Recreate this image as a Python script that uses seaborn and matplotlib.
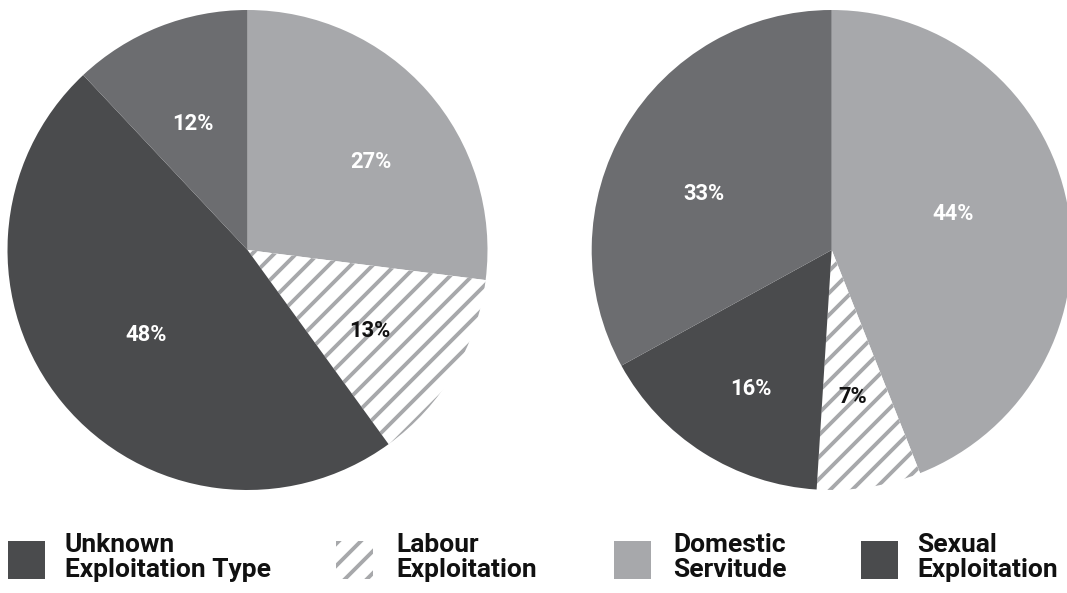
import matplotlib
matplotlib.use('Agg')
import matplotlib.pyplot as plt
import seaborn as sns
import numpy as np
from matplotlib.patches import Rectangle

# slice order in both pies: light, hatched, dark, mid grey (clockwise from 12 o'clock)
slice_names = ['Domestic Servitude', 'Labour Exploitation', 'Dark', 'Mid']
left_values = [27, 13, 48, 12]
right_values = [44, 7, 16, 33]

legend_labels = [['Unknown', 'Exploitation Type'],
                 ['Labour', 'Exploitation'],
                 ['Domestic', 'Servitude'],
                 ['Sexual', 'Exploitation']]

LIGHT = '#a7a8ab'
MID = '#6c6d70'
DARK = '#4a4b4d'
slice_colors = [LIGHT, 'white', DARK, MID]
legend_colors = [DARK, 'white', LIGHT, DARK]
legend_hatch = [None, '//', None, None]

sns.set_theme(style='white')
plt.rcParams['font.family'] = ['Roboto', 'DejaVu Sans']
plt.rcParams['hatch.linewidth'] = 2.1

W, H, DPI = 1067, 593, 132
fig = plt.figure(figsize=(W / DPI, H / DPI), dpi=DPI)


def draw_pie(ax, values, label_r, label_dang):
    wedges, _, autotexts = ax.pie(
        values, colors=slice_colors, startangle=90, counterclock=False,
        autopct=lambda p: f'{p:.0f}%', wedgeprops=dict(linewidth=0),
        textprops=dict(color='white', fontsize=12, fontweight='bold'))
    # hatched slice
    hw = wedges[1]
    hw.set_facecolor('white')
    hw.set_edgecolor(LIGHT)
    hw.set_linewidth(0)
    hw.set_hatch('//')
    autotexts[1].set_color('#111111')
    for w, t, r, da in zip(wedges, autotexts, label_r, label_dang):
        w.set_clip_on(False)
        ang = np.deg2rad((w.theta1 + w.theta2) / 2 + da)
        t.set_position((r * np.cos(ang), r * np.sin(ang)))
    ax.set_xlim(-1, 1)
    ax.set_ylim(-1, 1)
    ax.axis('off')


ax1 = fig.add_axes([7.5 / W, 1 - 490 / H, 480 / W, 480 / H])
draw_pie(ax1, left_values, [0.63, 0.61, 0.55, 0.57], [-6, -3, 0.5, 1.7])

ax2 = fig.add_axes([591.7 / W, 1 - 490 / H, 480 / W, 480 / H])
draw_pie(ax2, right_values, [0.53, 0.62, 0.67, 0.58], [5.7, -0.8, 2.4, 7.1])

# legend row
sq_x = [8, 336, 614, 861]
txt_x = [65, 396, 673, 917]
for lab, col, hat, sx, tx in zip(legend_labels, legend_colors, legend_hatch, sq_x, txt_x):
    r = Rectangle((sx / W, 1 - 579 / H), 37 / W, 38 / H, transform=fig.transFigure,
                  facecolor=col, edgecolor=LIGHT if hat else col, linewidth=0, hatch=hat)
    fig.add_artist(r)
    for line, base in zip(lab, [552.3, 576.7]):
        fig.text(tx / W, 1 - base / H, line, ha='left', va='baseline',
                 fontsize=14.4, fontweight='bold', color='#111111')

fig.savefig('out.png', dpi=DPI, facecolor='white')
